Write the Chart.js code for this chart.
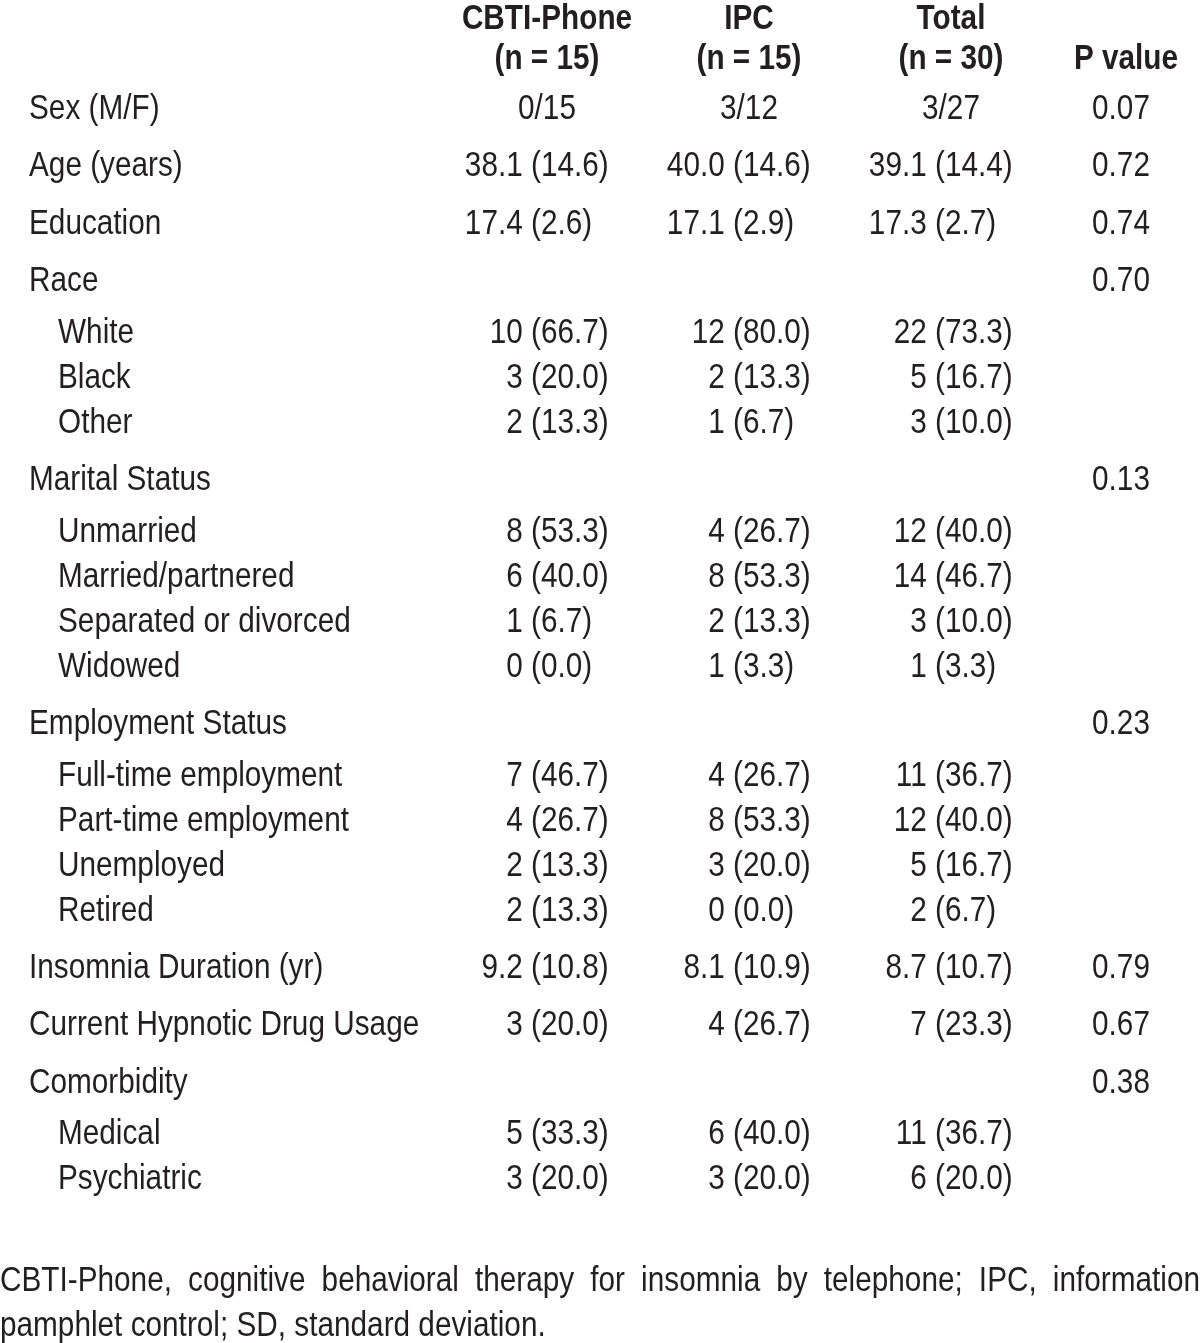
<!DOCTYPE html>
<html><head><meta charset="utf-8">
<script src="https://cdn.jsdelivr.net/npm/chart.js@4.4.1/dist/chart.umd.min.js"></script>
<style>html,body{margin:0;padding:0;background:#fff}#wrap{width:1200px;height:1343px;position:relative}</style>
</head><body><div id="wrap"><canvas id="c"></canvas></div>
<script>
// ---------- DATA ----------
const headerLine1 = ["CBTI-Phone", "IPC", "Total", ""];
const headerLine2 = ["(n = 15)", "(n = 15)", "(n = 30)", "P value"];
const rowLabels = ["Sex (M/F)", "Age (years)", "Education", "Race", "White", "Black", "Other",
  "Marital Status", "Unmarried", "Married/partnered", "Separated or divorced", "Widowed",
  "Employment Status", "Full-time employment", "Part-time employment", "Unemployed", "Retired",
  "Insomnia Duration (yr)", "Current Hypnotic Drug Usage", "Comorbidity", "Medical", "Psychiatric"];
const rowIndent = [0,0,0,0,1,1,1,0,1,1,1,1,0,1,1,1,1,0,0,0,1,1];
const cbtiValues = ["0/15","38.1 (14.6)","17.4 (2.6)","","10 (66.7)","3 (20.0)","2 (13.3)","",
  "8 (53.3)","6 (40.0)","1 (6.7)","0 (0.0)","","7 (46.7)","4 (26.7)","2 (13.3)","2 (13.3)",
  "9.2 (10.8)","3 (20.0)","","5 (33.3)","3 (20.0)"];
const ipcValues = ["3/12","40.0 (14.6)","17.1 (2.9)","","12 (80.0)","2 (13.3)","1 (6.7)","",
  "4 (26.7)","8 (53.3)","2 (13.3)","1 (3.3)","","4 (26.7)","8 (53.3)","3 (20.0)","0 (0.0)",
  "8.1 (10.9)","4 (26.7)","","6 (40.0)","3 (20.0)"];
const totalValues = ["3/27","39.1 (14.4)","17.3 (2.7)","","22 (73.3)","5 (16.7)","3 (10.0)","",
  "12 (40.0)","14 (46.7)","3 (10.0)","1 (3.3)","","11 (36.7)","12 (40.0)","5 (16.7)","2 (6.7)",
  "8.7 (10.7)","7 (23.3)","","11 (36.7)","6 (20.0)"];
const pValues = ["0.07","0.72","0.74","0.70","","","","0.13","","","","","0.23","","","","",
  "0.79","0.67","0.38","",""];
const footnoteLines = [
  "CBTI-Phone, cognitive behavioral therapy for insomnia by telephone; IPC, information",
  "pamphlet control; SD, standard deviation."];

// ---------- LAYOUT / STYLE ----------
const W = 1200, H = 1343;
const FONT = '"Liberation Sans", Arial, "DejaVu Sans", sans-serif';
const FS = 35, K = 0.85, INK = '#231f20', BASE_OFF = 12;
const labelX = 29, indentStep = 29;
const colCenters = [547, 749, 951, 1126];
const pCenter = 1121;
const parenOffset = 16;
const header1Y = 17, header2Y = 57;
const firstRowY = 107;
const gapMain = 57.4, gapMainToSub = 51.5, gapSub = 45;
const foot1Y = 1279, footGap = 45;

const rowY = [];
rowIndent.forEach((ind, i) => {
  if (i === 0) { rowY.push(firstRowY); return; }
  const prev = rowIndent[i - 1];
  const g = ind ? (prev ? gapSub : gapMainToSub) : gapMain;
  rowY.push(rowY[i - 1] + g);
});

function pts(xFn) { return rowLabels.map((_, i) => ({ x: xFn(i), y: rowY[i] })); }

const datasets = [
  { kind: 'label', cellText: rowLabels, data: pts(i => labelX + rowIndent[i] * indentStep) },
  { kind: 'group', cellText: cbtiValues, data: pts(() => colCenters[0]) },
  { kind: 'group', cellText: ipcValues, data: pts(() => colCenters[1]) },
  { kind: 'group', cellText: totalValues, data: pts(() => colCenters[2]) },
  { kind: 'p', cellText: pValues, data: pts(() => pCenter) }
].map(d => Object.assign(d, { pointRadius: 0, pointHoverRadius: 0, showLine: false }));

function drawText(ctx, text, x, y, align, bold) {
  if (!text) return;
  ctx.save();
  ctx.font = (bold ? 'bold ' : '') + FS + 'px ' + FONT;
  ctx.textAlign = align;
  ctx.textBaseline = 'alphabetic';
  ctx.fillStyle = INK;
  ctx.translate(x, y + BASE_OFF);
  ctx.scale(K, 1);
  ctx.fillText(text, 0, 0);
  ctx.restore();
}

const tablePlugin = {
  id: 'tableText',
  afterDatasetsDraw(chart) {
    const ctx = chart.ctx, xs = chart.scales.x, ys = chart.scales.y;
    colCenters.forEach((cx, c) => {
      drawText(ctx, headerLine1[c], xs.getPixelForValue(cx), ys.getPixelForValue(header1Y), 'center', true);
      drawText(ctx, headerLine2[c], xs.getPixelForValue(cx), ys.getPixelForValue(header2Y), 'center', true);
    });
    chart.data.datasets.forEach((ds, di) => {
      const meta = chart.getDatasetMeta(di);
      meta.data.forEach((el, i) => {
        const t = ds.cellText[i];
        if (!t) return;
        if (ds.kind === 'label') drawText(ctx, t, el.x, el.y, 'left', false);
        else if (ds.kind === 'p') drawText(ctx, t, el.x, el.y, 'center', false);
        else {
          const k = t.indexOf('(');
          if (k < 0) drawText(ctx, t, el.x, el.y, 'center', false);
          else {
            const ax = el.x - parenOffset;
            drawText(ctx, t.slice(0, k), ax, el.y, 'right', false);
            drawText(ctx, t.slice(k), ax, el.y, 'left', false);
          }
        }
      });
    });
    ctx.save();
    ctx.font = FS + 'px ' + FONT;
    footnoteLines.forEach((line, li) => {
      const y = ys.getPixelForValue(foot1Y + li * footGap);
      const x0 = xs.getPixelForValue(0), x1 = xs.getPixelForValue(W);
      if (li < footnoteLines.length - 1) {
        const words = line.split(' ');
        const widths = words.map(w => ctx.measureText(w).width * K);
        const total = widths.reduce((a, b) => a + b, 0);
        const gap = (x1 - x0 - total) / (words.length - 1);
        let x = x0;
        words.forEach((w, wi) => { drawText(ctx, w, x, y, 'left', false); x += widths[wi] + gap; });
      } else {
        drawText(ctx, line, x0, y, 'left', false);
      }
    });
    ctx.restore();
  }
};

new Chart(document.getElementById('c'), {
  type: 'scatter',
  data: { datasets },
  options: {
    responsive: true, maintainAspectRatio: false, animation: false,
    layout: { padding: 0 },
    plugins: { legend: { display: false }, tooltip: { enabled: false } },
    scales: {
      x: { type: 'linear', min: 0, max: W, display: false },
      y: { type: 'linear', min: 0, max: H, reverse: true, display: false }
    }
  },
  plugins: [tablePlugin]
});
</script>
</body></html>
